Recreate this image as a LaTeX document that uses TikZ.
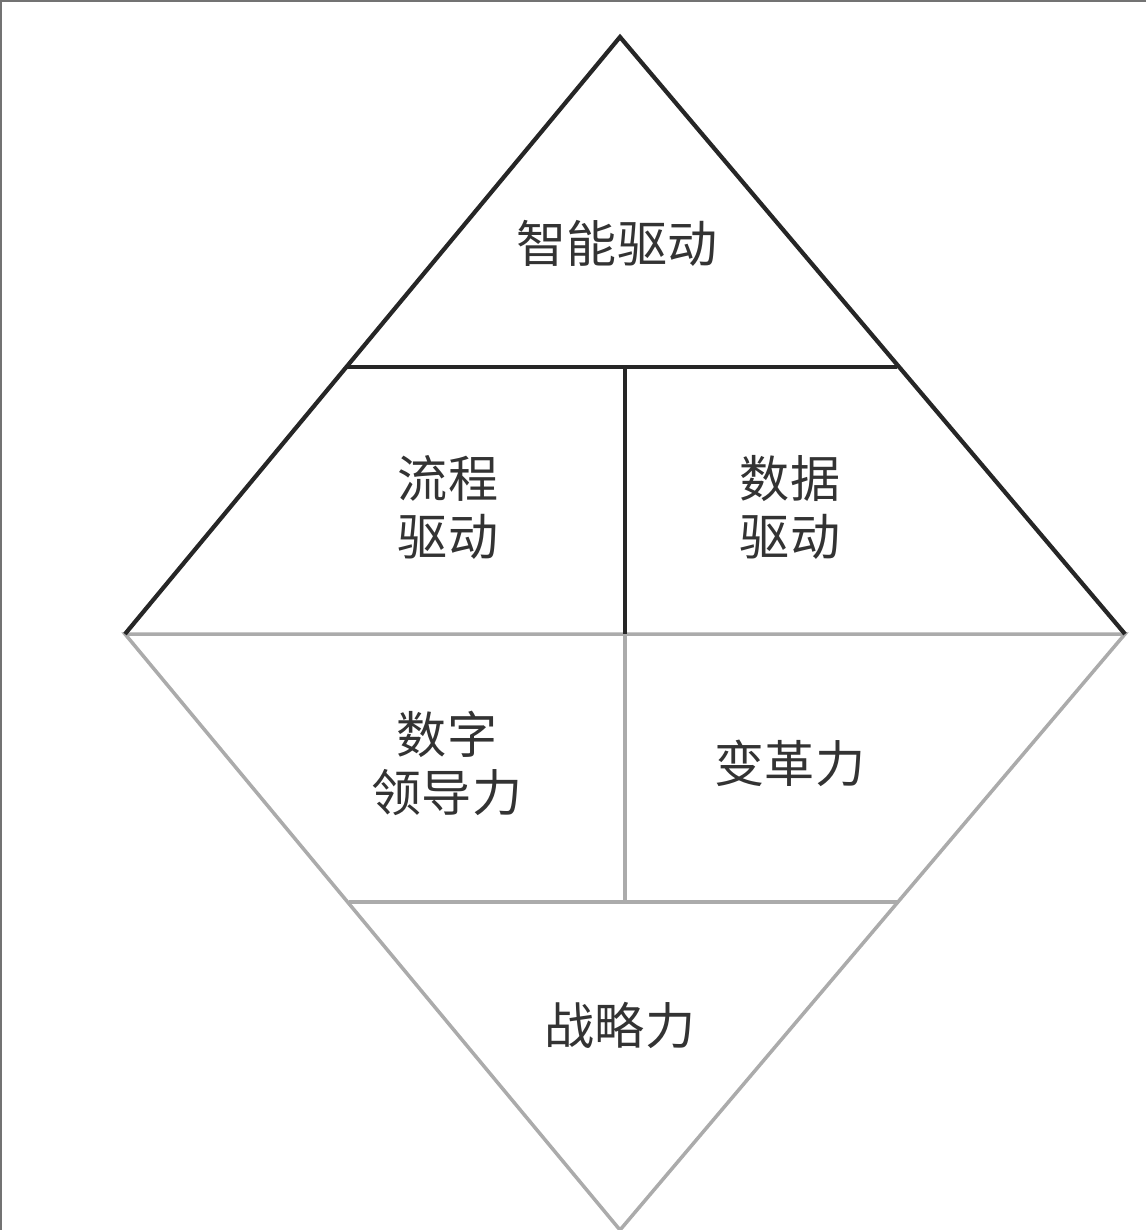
\documentclass[tikz,border=0pt]{standalone}
\usepackage{fontspec}
\newfontfamily\cjk{Noto Sans CJK SC}
\begin{document}
\begin{tikzpicture}[x=0.02cm,y=-0.02cm,
        upper/.style={draw=black!85,line width=2.4pt},
        lower/.style={draw=black!33,line width=2pt},
        word/.style={font=\cjk\fontsize{28.5}{33}\selectfont,text=black!80,align=center,inner sep=0pt}]
    \useasboundingbox (0,0) rectangle (1146,1230);
    \draw[black!55,line width=1.1pt] (1146,1) -- (1,1) -- (1,1230);
    % corners of the diamond
    \coordinate (top) at (620,37);
    \coordinate (lft) at (125,634);
    \coordinate (rgt) at (1125,634);
    \coordinate (bot) at (620,1230);
    \coordinate (ul) at (347,367);
    \coordinate (ur) at (897,367);
    \coordinate (um) at (625,367);
    \coordinate (mm) at (625,634);
    \coordinate (ll) at (349,902);
    \coordinate (lr) at (898,902);
    \coordinate (lm) at (625,902);
    % lower half
    \draw[lower] (lft) -- (bot) -- (rgt) -- cycle;
    \draw[lower] (ll) -- (lr);
    \draw[lower] (mm) -- (lm);
    % upper half
    \draw[upper] (lft) -- (top) -- (rgt);
    \draw[upper] (ul) -- (ur);
    \draw[upper] (um) -- (mm);
    \node[word] (ai) at (617,243) {智能驱动};
    \node[word] (flow) at (448,507) {流程\\驱动};
    \node[word] (data) at (790,507) {数据\\驱动};
    \node[word] (lead) at (447,763) {数字\\领导力};
    \node[word] (change) at (790,763) {变革力};
    \node[word] (strat) at (620,1025) {战略力};
\end{tikzpicture}
\end{document}
